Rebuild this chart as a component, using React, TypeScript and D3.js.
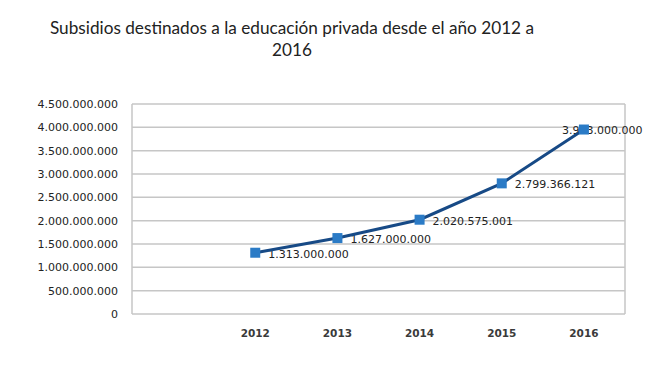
import React from "react";
import * as d3 from "d3";

const categories = ["", "2012", "2013", "2014", "2015", "2016"];
const years = ["2012", "2013", "2014", "2015", "2016"];
const values = [1313000000, 1627000000, 2020575001, 2799366121, 3953000000];
const valueLabels = ["1.313.000.000", "1.627.000.000", "2.020.575.001", "2.799.366.121", "3.953.000.000"];
const yTicks = [0, 500000000, 1000000000, 1500000000, 2000000000, 2500000000, 3000000000, 3500000000, 4000000000, 4500000000];
const titleLines = ["Subsidios destinados a la educación privada desde el año 2012 a", "2016"];

const W = 653, H = 369;
const left = 132, right = 625, top = 104, bottom = 314;

const fmt = (v: number) => {
  if (v === 0) return "0";
  return Math.round(v).toString().replace(/\B(?=(\d{3})+(?!\d))/g, ".");
};

export default function App() {
  const x = d3.scaleBand().domain(categories).range([left, right]);
  const y = d3.scaleLinear().domain([0, 4500000000]).range([bottom, top]);
  const pts = years.map((yr, i) => [x(yr)! + x.bandwidth() / 2, y(values[i])] as [number, number]);
  const line = d3.line()(pts) || "";
  return (
    <svg width={W} height={H} style={{ position: "absolute", left: 0, top: 0, background: "#fff" }}>
      <rect x={0} y={0} width={W} height={H} fill="#fff" />
      {titleLines.map((t, i) => (
        <text key={i} x={292} y={34 + i * 22} textAnchor="middle" fontFamily="Lato, 'Open Sans', sans-serif" fontSize={17.2} fill="#222">{t}</text>
      ))}
      {yTicks.map((t) => (
        <g key={t}>
          <line x1={left} x2={right} y1={y(t)} y2={y(t)} stroke="#c6c6c6" strokeWidth={1.5} />
          <text x={118} y={y(t)} dy="0.36em" textAnchor="end" fontFamily="'DejaVu Sans', sans-serif" fontSize={11} fill="#222">{fmt(t)}</text>
        </g>
      ))}
      <line x1={left} x2={left} y1={top} y2={bottom} stroke="#c6c6c6" strokeWidth={1.5} />
      <line x1={right} x2={right} y1={top} y2={bottom} stroke="#c6c6c6" strokeWidth={1.5} />
      {categories.map((c) => (
        <text key={c || "blank"} x={x(c)! + x.bandwidth() / 2} y={337} textAnchor="middle" fontFamily="'DejaVu Sans', sans-serif" fontWeight="bold" fontSize={10.5} fill="#3a3a3a">{c}</text>
      ))}
      {pts.map((p, i) => (
        <text key={"l" + i} x={i === pts.length - 1 ? p[0] - 22 : p[0] + 13} y={p[1] + 1} dy="0.36em" fontFamily="'DejaVu Sans', sans-serif" fontSize={11} fill="#222">{valueLabels[i]}</text>
      ))}
      <path d={line} fill="none" stroke="#174a86" strokeWidth={3} />
      {pts.map((p, i) => (
        <rect key={"m" + i} x={p[0] - 5} y={p[1] - 5} width={10} height={10} fill="#2b7bc6" />
      ))}
    </svg>
  );
}
